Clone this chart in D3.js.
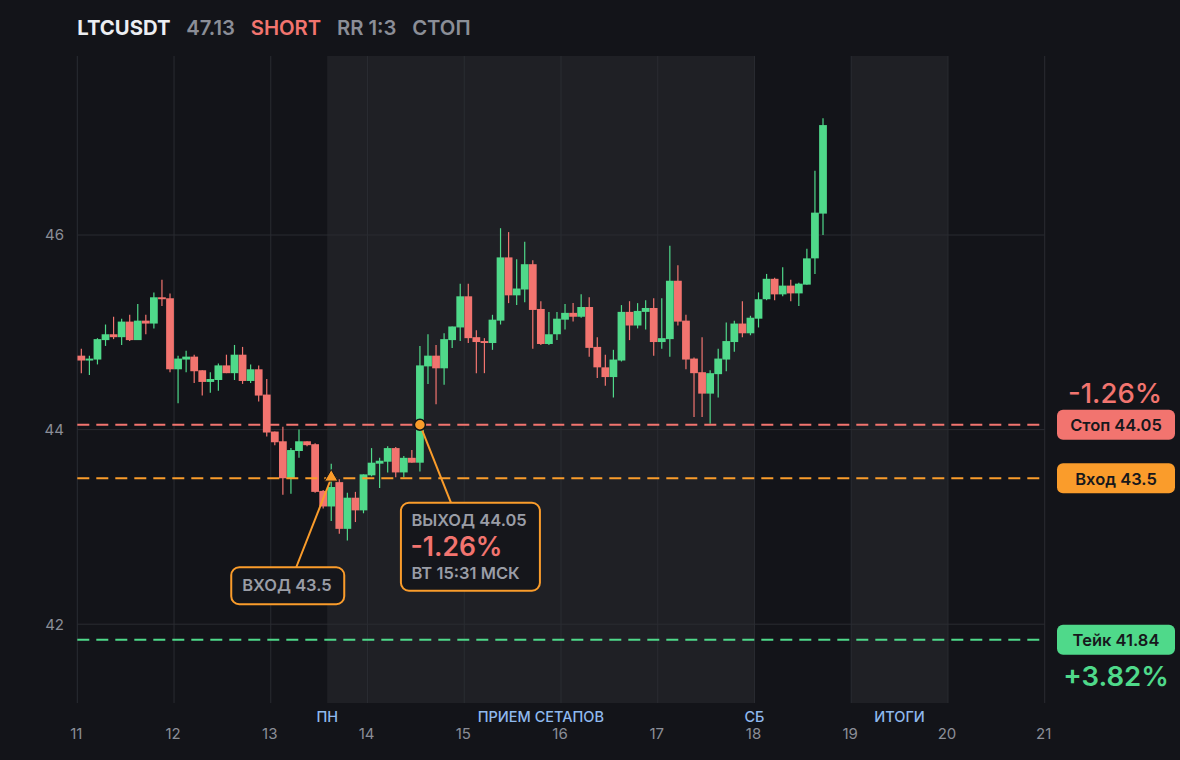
<!DOCTYPE html>
<html>
<head>
<meta charset="utf-8">
<script src="https://cdn.jsdelivr.net/npm/d3@7"></script>
<style>
  html, body { margin: 0; padding: 0; background: #131419; }
  svg { display: block; font-family: Inter, "Noto Sans", sans-serif; }
</style>
</head>
<body>
<svg id="chart" width="1180" height="760"></svg>
<script>
// --- data ---
const startDay = 11;          // first candle opens at day 11, 00:00
const candleHours = 2;
const opens  = [44.76,44.71,44.72,44.92,44.98,44.95,45.11,44.92,45.12,45.09,45.36,45.35,44.62,44.72,44.75,44.61,44.49,44.51,44.66,44.58,
                44.77,44.50,44.62,44.36,43.98,43.88,43.50,43.78,43.88,43.85,43.37,43.21,43.46,42.98,43.30,43.17,43.53,43.65,43.67,43.81,
                43.56,43.71,43.66,44.65,44.76,44.63,44.92,45.05,45.37,44.95,44.91,44.89,45.12,45.77,45.38,45.44,45.70,45.24,44.88,44.98,
                45.13,45.20,45.16,45.26,44.85,44.64,44.54,44.71,45.21,45.07,45.21,45.25,44.90,44.93,45.53,45.12,44.73,44.59,44.37,44.57,
                44.72,44.90,45.09,44.99,45.14,45.34,45.55,45.39,45.48,45.40,45.49,45.76,46.22];
const highs  = [44.83,44.76,44.94,45.08,45.16,45.14,45.18,45.29,45.18,45.41,45.54,45.40,44.76,44.81,44.77,44.61,44.59,44.68,44.77,44.87,
                44.85,44.67,44.66,44.52,43.98,44.03,43.81,44.00,43.88,43.86,43.38,43.65,43.49,43.35,43.36,43.54,43.81,43.71,43.83,43.82,
                43.73,43.79,44.86,44.98,44.87,44.99,45.06,45.50,45.50,45.02,44.94,45.18,46.07,46.03,45.75,45.93,45.74,45.32,45.21,45.21,
                45.29,45.30,45.39,45.36,44.95,44.77,44.82,45.28,45.32,45.30,45.33,45.35,45.35,45.89,45.69,45.18,44.74,44.95,44.61,44.83,
                45.10,45.12,45.32,45.17,45.41,45.60,45.56,45.67,45.54,45.51,45.86,46.66,47.20];
const lows   = [44.58,44.56,44.67,44.86,44.93,44.87,44.91,44.92,44.98,45.04,45.27,44.59,44.27,44.59,44.48,44.35,44.38,44.40,44.58,44.51,
                44.47,44.48,44.29,43.93,43.84,43.33,43.34,43.71,43.83,43.35,43.19,43.06,42.93,42.86,43.05,43.14,43.52,43.40,43.56,43.51,
                43.51,43.66,43.57,44.47,44.26,44.46,44.84,44.91,44.89,44.58,44.58,44.82,45.08,45.30,45.28,45.31,44.83,44.87,44.87,44.92,
                45.03,45.11,45.15,44.75,44.53,44.45,44.33,44.70,44.92,45.04,45.03,44.76,44.83,44.75,45.07,44.62,44.13,44.13,44.06,44.33,
                44.60,44.80,44.95,44.97,45.05,45.33,45.33,45.37,45.32,45.27,45.49,45.60,46.00];
const closes = [44.71,44.73,44.93,44.98,44.95,45.11,44.92,45.12,45.09,45.36,45.34,44.62,44.73,44.75,44.60,44.49,44.52,44.66,44.58,44.77,
                44.50,44.62,44.35,43.97,43.87,43.50,43.79,43.88,43.84,43.36,43.21,43.41,42.98,43.30,43.17,43.54,43.66,43.68,43.81,43.56,
                43.71,43.66,44.66,44.76,44.63,44.93,45.06,45.37,44.94,44.90,44.89,45.13,45.77,45.38,45.45,45.70,45.23,44.88,44.98,45.14,
                45.20,45.16,45.26,44.84,44.64,44.54,44.72,45.21,45.07,45.22,45.25,44.90,44.94,45.53,45.11,44.72,44.58,44.37,44.58,44.73,
                44.91,45.09,44.99,45.15,45.34,45.55,45.39,45.48,45.40,45.50,45.76,46.23,47.13];

const dayTicks = [11,12,13,14,15,16,17,18,19,20,21];
const priceTicks = [42, 44, 46];

// shaded sessions (day values)
const bandStarts = [13 + 14/24, 19];
const bandEnds   = [18, 20];
const bandLabels = ['ПРИЕМ СЕТАПОВ', 'ИТОГИ'];
const edgeLabels = ['ПН', 'СБ'];
const edgeDays   = [13 + 14/24, 18];

// trade levels
const levelNames  = ['Стоп', 'Вход', 'Тейк'];
const levelValues = [44.05, 43.5, 41.84];
const levelColors = ['#f2746f', '#fa9c2b', '#4fd98a'];

const entryIndex = 31, entryPrice = 43.5;
const exitIndex = 42,  exitPrice = 44.05;
const exitTime = 'ВТ 15:31 МСК';
const resultPct = '-1.26%';
const stopPct = '-1.26%', takePct = '+3.82%';

const titleParts  = ['LTCUSDT', '47.13', 'SHORT', 'RR 1:3', 'СТОП'];
const titleColors = ['#eceef2', '#8b8e97', '#f2746f', '#8b8e97', '#8b8e97'];

// --- colours ---
const UP = '#4fd98a', DOWN = '#f2746f', ORANGE = '#fa9c2b';
const GRID = '#2a2c32', SHADE = '#1f2025', MUTED = '#8b8e97';

const candles = opens.map((o, i) => ({
  t: startDay + (i + 0.5) * candleHours / 24,
  o, h: highs[i], l: lows[i], c: closes[i]
}));

const svg = d3.select('#chart');
const plot = { left: 77.3, right: 1044.7, top: 56, bottom: 703 };

const x = d3.scaleLinear().domain([11, 21]).range([plot.left, plot.right]);
const y = d3.scaleLinear().domain([41.19, 47.84]).range([plot.bottom, plot.top]);

// background
svg.append('rect').attr('width', 1180).attr('height', 760).attr('fill', '#131419');

// session shading
svg.append('g').selectAll('rect')
  .data(bandStarts)
  .join('rect')
  .attr('x', d => x(d))
  .attr('width', (d, i) => x(bandEnds[i]) - x(d))
  .attr('y', plot.top)
  .attr('height', plot.bottom - plot.top)
  .attr('fill', SHADE);

// grid
const grid = svg.append('g').attr('stroke', GRID).attr('stroke-width', 1);
grid.selectAll('line.v')
  .data(dayTicks)
  .join('line')
  .attr('class', 'v')
  .attr('x1', d => x(d)).attr('x2', d => x(d))
  .attr('y1', plot.top).attr('y2', plot.bottom);
grid.selectAll('line.h')
  .data(priceTicks)
  .join('line')
  .attr('class', 'h')
  .attr('x1', plot.left).attr('x2', plot.right)
  .attr('y1', d => y(d)).attr('y2', d => y(d));

// axes labels
const yAxis = d3.axisLeft(y).tickValues(priceTicks).tickSize(0).tickPadding(0).tickFormat(d3.format('d'));
svg.append('g')
  .attr('transform', 'translate(64,0)')
  .call(yAxis)
  .call(g => g.select('.domain').remove())
  .call(g => g.selectAll('text')
    .attr('fill', MUTED)
    .style('font-size', '15px')
    .style('font-family', 'Inter, sans-serif'));

const xAxis = d3.axisBottom(x).tickValues(dayTicks).tickSize(0).tickPadding(0).tickFormat(d3.format('d'));
svg.append('g')
  .attr('transform', 'translate(-1.5,728)')
  .call(xAxis)
  .call(g => g.select('.domain').remove())
  .call(g => g.selectAll('text')
    .attr('fill', MUTED)
    .style('font-size', '15px')
    .style('font-family', 'Inter, sans-serif'));

// session labels
const sessionText = svg.append('g')
  .attr('fill', '#8fb9ee')
  .style('font-size', '14.5px')
  .style('font-weight', 500)
  .attr('text-anchor', 'middle');
sessionText.selectAll('text.edge')
  .data(edgeDays)
  .join('text')
  .attr('class', 'edge')
  .attr('x', d => x(d))
  .attr('y', 722)
  .text((d, i) => edgeLabels[i]);
sessionText.selectAll('text.band')
  .data(bandStarts)
  .join('text')
  .attr('class', 'band')
  .attr('x', (d, i) => x((d + bandEnds[i]) / 2))
  .attr('y', 722)
  .text((d, i) => bandLabels[i]);

// candles
const pitch = x(startDay + candleHours / 24) - x(startDay);
const bodyW = pitch - 0.3;
const cg = svg.append('g');
cg.selectAll('line')
  .data(candles)
  .join('line')
  .attr('x1', d => x(d.t)).attr('x2', d => x(d.t))
  .attr('y1', d => y(d.h)).attr('y2', d => y(d.l))
  .attr('stroke', d => d.c >= d.o ? UP : DOWN)
  .attr('stroke-width', 1.2);
cg.selectAll('rect')
  .data(candles)
  .join('rect')
  .attr('x', d => x(d.t) - bodyW / 2)
  .attr('width', bodyW)
  .attr('y', d => y(Math.max(d.o, d.c)))
  .attr('height', d => Math.max(1.5, Math.abs(y(d.o) - y(d.c))))
  .attr('fill', d => d.c >= d.o ? UP : DOWN);

// level lines (dashed)
svg.append('g').selectAll('line')
  .data(levelValues)
  .join('line')
  .attr('x1', plot.left).attr('x2', plot.right)
  .attr('y1', d => y(d)).attr('y2', d => y(d))
  .attr('stroke', (d, i) => levelColors[i])
  .attr('stroke-width', 2)
  .attr('stroke-dasharray', '12,7');

// right side level tags
const tags = svg.append('g').selectAll('g')
  .data(levelValues)
  .join('g')
  .attr('transform', d => `translate(1116,${y(d)})`);
tags.append('rect')
  .attr('x', -59).attr('y', -15)
  .attr('width', 118).attr('height', 30)
  .attr('rx', 6)
  .attr('fill', (d, i) => levelColors[i]);
tags.append('text')
  .attr('text-anchor', 'middle')
  .attr('y', 6.5)
  .attr('fill', '#17181c')
  .style('font-size', '16.5px')
  .style('font-weight', 600)
  .text((d, i) => `${levelNames[i]} ${d}`);

svg.append('text')
  .attr('x', 1115).attr('y', y(levelValues[0]) - 22)
  .attr('text-anchor', 'middle')
  .attr('fill', DOWN)
  .style('font-size', '27.5px')
  .style('font-weight', 500)
  .text(stopPct);
svg.append('text')
  .attr('x', 1116).attr('y', y(levelValues[2]) + 46)
  .attr('text-anchor', 'middle')
  .attr('fill', UP)
  .style('font-size', '27.5px')
  .style('font-weight', 600)
  .text(takePct);

// entry / exit annotations
const ex = startDay + (entryIndex + 0.5) * candleHours / 24;
const xx = startDay + (exitIndex + 0.5) * candleHours / 24;
const entryPt = [x(ex), y(entryPrice)];
const exitPt = [x(xx), y(exitPrice)];

const ann = svg.append('g');
ann.append('line')
  .attr('x1', entryPt[0]).attr('y1', entryPt[1])
  .attr('x2', entryPt[0] - 35).attr('y2', entryPt[1] + 89)
  .attr('stroke', ORANGE).attr('stroke-width', 2);
ann.append('line')
  .attr('x1', exitPt[0]).attr('y1', exitPt[1])
  .attr('x2', exitPt[0] + 31).attr('y2', exitPt[1] + 78)
  .attr('stroke', ORANGE).attr('stroke-width', 2);

ann.append('path')
  .attr('d', d3.symbol(d3.symbolTriangle, 78)())
  .attr('transform', `translate(${entryPt[0]},${entryPt[1] - 1})`)
  .attr('fill', ORANGE)
  .attr('stroke', '#131419')
  .attr('stroke-width', 1);
ann.append('circle')
  .attr('cx', exitPt[0]).attr('cy', exitPt[1])
  .attr('r', 5.5)
  .attr('fill', ORANGE)
  .attr('stroke', '#131419')
  .attr('stroke-width', 1.5);

// entry box
const eb = ann.append('g').attr('transform', `translate(${entryPt[0] - 100},${entryPt[1] + 89})`);
eb.append('rect')
  .attr('width', 113).attr('height', 37).attr('rx', 8)
  .attr('fill', '#15161b').attr('stroke', ORANGE).attr('stroke-width', 2);
eb.append('text')
  .attr('x', 11).attr('y', 23.5)
  .attr('fill', '#9a9da6')
  .style('font-size', '16.5px')
  .style('font-weight', 600)
  .text(`ВХОД ${entryPrice}`);

// exit box
const xb = ann.append('g').attr('transform', `translate(${exitPt[0] - 19},${exitPt[1] + 78})`);
xb.append('rect')
  .attr('width', 139).attr('height', 88).attr('rx', 8)
  .attr('fill', '#15161b').attr('stroke', ORANGE).attr('stroke-width', 2);
xb.append('text')
  .attr('x', 10.5).attr('y', 23)
  .attr('fill', '#9a9da6')
  .style('font-size', '16.5px')
  .style('font-weight', 600)
  .text(`ВЫХОД ${exitPrice}`);
xb.append('text')
  .attr('x', 9.5).attr('y', 53.5)
  .attr('fill', DOWN)
  .style('font-size', '26.5px')
  .style('font-weight', 600)
  .text(resultPct);
xb.append('text')
  .attr('x', 10.5).attr('y', 76)
  .attr('fill', '#9a9da6')
  .style('font-size', '16.5px')
  .style('font-weight', 600)
  .text(exitTime);

// title
let tx = 77.3;
const title = svg.append('g');
titleParts.forEach((s, i) => {
  const t = title.append('text')
    .attr('x', tx).attr('y', 35)
    .attr('fill', titleColors[i])
    .style('font-size', '20.3px')
    .style('font-weight', i === 0 ? 700 : 600)
    .text(s);
  tx += t.node().getComputedTextLength() + 15.7;
});
</script>
</body>
</html>
